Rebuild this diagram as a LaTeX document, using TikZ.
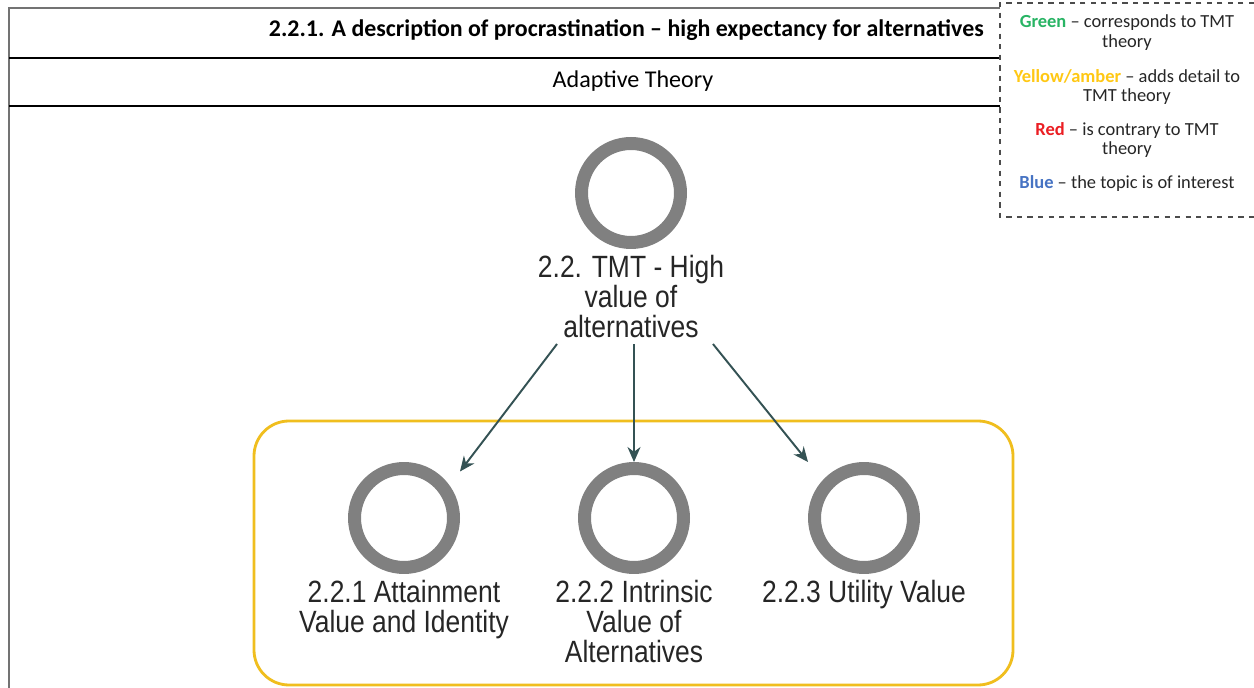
\documentclass[tikz,border=0pt]{standalone}
\usepackage{fontspec}
\setmainfont{Carlito}
\newfontfamily\nvfont[FakeStretch=0.86]{Liberation Sans}
\usetikzlibrary{arrows.meta, positioning}

\definecolor{ringgray}{RGB}{128,128,128}
\definecolor{arrowteal}{RGB}{52,82,84}
\definecolor{boxgold}{RGB}{240,190,30}
\definecolor{keygreen}{RGB}{40,180,100}
\definecolor{keyamber}{RGB}{255,200,20}
\definecolor{keyred}{RGB}{235,30,35}
\definecolor{keyblue}{RGB}{70,115,195}

\begin{document}
\begin{tikzpicture}[
    x=0.02cm, y=-0.02cm,
    node distance=0.12cm,
    ring/.style={circle, draw=ringgray, line width=0.26cm, minimum size=1.98cm, inner sep=0pt},
    caption/.style={align=center, inner sep=0pt, font=\nvfont\fontsize{17.5}{17}\selectfont, text=black!85},
    keytext/.style={align=center, inner sep=0pt, font=\fontsize{10.5}{11.3}\selectfont, text=black!85},
    arrow/.style={-{Stealth[length=3mm, width=2.6mm]}, line width=1.1pt, color=arrowteal},
]

\useasboundingbox (0,0) rectangle (1254,688);
\fill[white] (0,0) rectangle (1254,688);

% table frame
\draw[black!55, line width=0.8pt] (9,688) -- (9,8) -- (1000,8);
\draw[black, line width=0.7pt] (9,58) -- (1000,58);
\draw[black, line width=0.7pt] (9,106) -- (1000,106);
\node[anchor=east, font=\bfseries\fontsize{13.6}{15}\selectfont] (title) at (990,30) {2.2.1. A description of procrastination – high expectancy for alternatives};
\node[font=\fontsize{13.7}{15}\selectfont] (theory) at (633,81) {Adaptive Theory};

% legend
\draw[black!70, dashed, line width=0.6pt] (1254,3) -- (1000,3) -- (1000,217) -- (1254,217);
\node[keytext] (kgreen) at (1127,33) {\textcolor{keygreen}{\bfseries Green} – corresponds to TMT\\theory};
\node[keytext] (kamber) at (1127,87) {\textcolor{keyamber}{\bfseries Yellow/amber} – adds detail to\\TMT theory};
\node[keytext] (kred) at (1127,140) {\textcolor{keyred}{\bfseries Red} – is contrary to TMT\\theory};
\node[keytext] (kblue) at (1127,184) {\textcolor{keyblue}{\bfseries Blue} – the topic is of interest};

% group box
\draw[boxgold, line width=1.6pt, rounded corners=0.7cm] (254,421) rectangle (1013,685);

% nodes
\node[ring] (top) at (631,193) {};
\node[caption, below=of top] (toplbl) {2.2. TMT - High\\value of\\alternatives};

\node[ring] (att) at (404,518) {};
\node[caption, below=of att] (attlbl) {2.2.1 Attainment\\Value and Identity};
\node[ring] (intr) at (634,518) {};
\node[caption, below=of intr] (intrlbl) {2.2.2 Intrinsic\\Value of\\Alternatives};
\node[ring] (util) at (864,518) {};
\node[caption, below=of util] (utillbl) {2.2.3 Utility Value};

% connectors
\draw[arrow] ([xshift=-1.48cm, yshift=-0.12cm]toplbl.south) -- ([xshift=1.12cm, yshift=-0.19cm]att.north);
\draw[arrow] ([yshift=-0.12cm]toplbl.south -| intr.north) -- (intr.north);
\draw[arrow] ([xshift=1.64cm, yshift=-0.12cm]toplbl.south) -- ([xshift=-1.12cm]util.north);

\end{tikzpicture}
\end{document}
